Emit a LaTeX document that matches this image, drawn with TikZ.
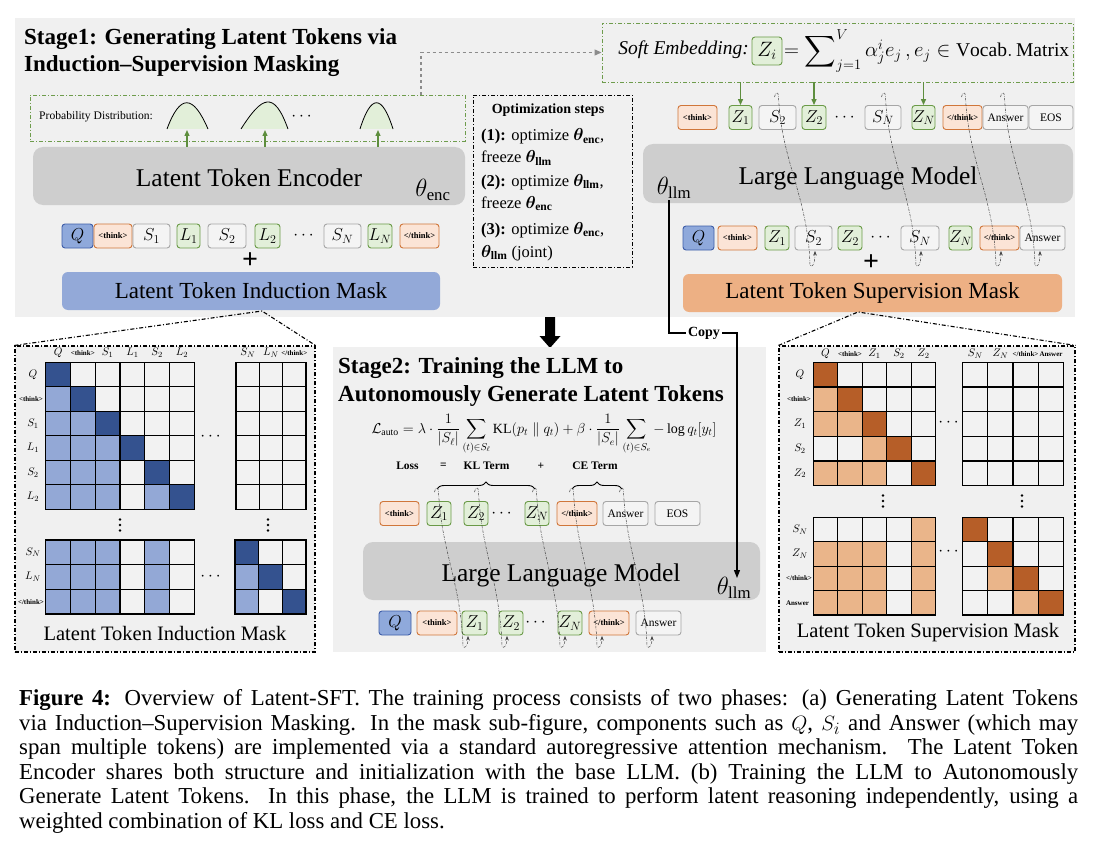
\documentclass[tikz,border=0pt]{standalone}
\usepackage{amsmath,amssymb,bm,graphicx}
\usepackage{fontspec}
\setmainfont{Liberation Serif}
\usetikzlibrary{arrows.meta,decorations.pathreplacing,calc}
\newcommand{\myfs}[2]{\fontsize{#1}{#2}\selectfont}
\definecolor{stagebg}{HTML}{F0F0F0}
\definecolor{llmgray}{HTML}{CECECE}
\definecolor{qfill}{HTML}{8FA9DB}
\definecolor{qdraw}{HTML}{3D5DA8}
\definecolor{thfill}{HTML}{FBE4D6}
\definecolor{thdraw}{HTML}{D0763A}
\definecolor{sfill}{HTML}{F4F4F4}
\definecolor{sdraw}{HTML}{A6A6A6}
\definecolor{zfill}{HTML}{E2EFD9}
\definecolor{zdraw}{HTML}{6A9A47}
\definecolor{indmask}{HTML}{93A9D8}
\definecolor{supmask}{HTML}{EDB084}
\definecolor{bD}{HTML}{34528F}
\definecolor{bL}{HTML}{93A8D6}
\definecolor{mW}{HTML}{F2F2F2}
\definecolor{oD}{HTML}{B65E28}
\definecolor{oL}{HTML}{EAB58A}
\definecolor{gline}{HTML}{6E9C4C}
\definecolor{garr}{HTML}{5E8E3E}
\newcommand{\tk}[6]{\node[#1, minimum width=#3pt] (#2) at (#4,#5) {#6};}
\newcommand{\mblock}[5]{%
 \foreach \rw [count=\ii from 0] in {#5} {%
  \foreach \cc [count=\jj from 0] in \rw {%
   \filldraw[cell, fill=\cc] ({#1+\jj*#3},{#2+\ii*#4}) rectangle ++(#3,#4);
  }%
 }%
}
\newcommand{\lcurve}[5]{%
 \draw[dcurve] ({#1-2.5},{#2+5}) .. controls ({#1-1.5},{#2}) and ({#1+1},{#2-1}) .. ({#1+1.5},{#2+4})
   .. controls ({#1+4},{#2+(#5-#2)*0.4}) and ({#3-7},{#5-(#5-#2)*0.4}) .. ({#3-5},{#5})
   .. controls ({#3-4},{#5+3}) and ({#3},{#5+1}) .. (#3,#4);
}
\newcommand{\vdotsat}[2]{\foreach \k in {-5.5,0,5.5} \fill (#1,{#2+\k}) circle (1.3pt);}
\newcommand{\bigsum}{\mathop{\vcenter{\hbox{\scalebox{1.12}{$\displaystyle\sum$}}}}\nolimits}
\begin{document}
\begin{tikzpicture}[x=1pt,y=-1pt,
 every node/.style={inner sep=0pt},
 tok/.style={draw, rounded corners=3pt, minimum height=24pt, line width=0.9pt, font=\myfs{18}{20}},
 tq/.style={tok, fill=qfill, draw=qdraw},
 tth/.style={tok, fill=thfill, draw=thdraw, font=\bfseries\myfs{8.5}{9}},
 ts/.style={tok, fill=sfill, draw=sdraw},
 tz/.style={tok, fill=zfill, draw=zdraw},
 ta/.style={tok, fill=sfill, draw=sdraw, font=\myfs{11.5}{13}},
 llmbox/.style={fill=llmgray, rounded corners=10pt},
 llmtext/.style={font=\myfs{25.5}{28}},
 maskbox/.style={rounded corners=6pt, font=\myfs{23}{25}},
 gbox/.style={draw=gline, line width=0.9pt, dash pattern=on 4pt off 2pt on 1pt off 2pt},
 kbox/.style={draw=black, line width=0.9pt, dash pattern=on 4pt off 2pt on 1pt off 2pt},
 panel/.style={fill=stagebg, draw=black, line width=1.1pt, dash pattern=on 4pt off 2pt on 1pt off 2pt},
 roof/.style={draw=black, line width=1.1pt, dash pattern=on 4pt off 2pt on 1pt off 2pt},
 garrow/.style={draw=garr, line width=1.3pt, -{Triangle[length=6pt,width=5pt]}},
 dcurve/.style={draw=black!75, line width=0.5pt, dash pattern=on 2.5pt off 1.2pt on 0.5pt off 1.2pt, -{Stealth[length=4.5pt,width=3.5pt]}},
 cell/.style={line width=1.1pt, draw=black},
 mlab/.style={font=\myfs{11}{12}},
 thlab/.style={font=\bfseries\myfs{7}{8}},
 dots/.style={font=\myfs{17}{19}},
 optl/.style={anchor=base west, font=\myfs{16.5}{19}},
 lossl/.style={font=\bfseries\myfs{11.5}{13}},
 capl/.style={anchor=base west, font=\myfs{22.8}{25}},
]
\useasboundingbox (0,0) rectangle (1098,848);
\fill[white] (0,0) rectangle (1098,848);
% ---------------- Stage 1 ----------------
\fill[stagebg] (15,18) rectangle (1075,317);
\node[anchor=base west, font=\bfseries\myfs{23}{27}] (t1a) at (24,45) {Stage1: Generating Latent Tokens via};
\node[anchor=base west, font=\bfseries\myfs{23}{27}] (t1b) at (24,72) {Induction–Supervision Masking};

% probability distribution box
\node[gbox, minimum width=435pt, minimum height=46pt] (prob) at (247.5,118) {};
\node[anchor=west, font=\myfs{11.6}{13}] (probt) at (39,117) {Probability Distribution:};
\fill[zfill] (167,129) .. controls (180,94) and (193,94) .. (208,129) -- cycle;
\draw[line width=0.8pt] (167,129) .. controls (180,94) and (193,94) .. (208,129);
\fill[zfill] (241,129) .. controls (262,96) and (274,90) .. (288,129) -- cycle;
\draw[line width=0.8pt] (241,129) .. controls (262,96) and (274,90) .. (288,129);
\fill[zfill] (360,129) .. controls (371,94) and (382,94) .. (393,129) -- cycle;
\draw[line width=0.8pt] (360,129) .. controls (371,94) and (382,94) .. (393,129);
\node[dots] (pd) at (303,117) {$\cdots$};
\coordinate (b1) at (187,130);
\coordinate (b2) at (265,130);
\coordinate (b3) at (378,130);

% encoder
\node[llmbox, minimum width=432pt, minimum height=58pt] (enc) at (249,176) {};
\node[llmtext] (enct) at (249,178) {Latent Token Encoder};
\node[font=\myfs{24}{26}] (thE) at (433,190) {$\theta_{\mathrm{enc}}$};
\draw[garrow] (enc.north -| b1) -- (b1);
\draw[garrow] (enc.north -| b2) -- (b2);
\draw[garrow] (enc.north -| b3) -- (b3);

% left token row
\tk{tq}{aQ}{31}{77.5}{236}{$Q$}
\tk{tth}{ath}{38}{113}{236}{<think>}
\tk{ts}{as1}{37}{151.5}{236}{$S_1$}
\tk{tz}{al1}{23}{188.5}{236}{$L_1$}
\tk{ts}{as2}{38}{227}{236}{$S_2$}
\tk{tz}{al2}{25}{267.5}{236}{$L_2$}
\node[dots] (ad) at (305,236) {$\cdots$};
\tk{ts}{asn}{37}{342.5}{236}{$S_N$}
\tk{tz}{aln}{24}{380}{236}{$L_N$}
\tk{tth}{aet}{39}{419.5}{236}{</think>}
\node[font=\bfseries\myfs{28}{30}] (plA) at (250,261) {+};
\node[maskbox, fill=indmask, minimum width=378pt, minimum height=38pt] (imask) at (251,291) {Latent Token Induction Mask};

% optimization steps
\node[kbox, minimum width=159pt, minimum height=172pt] (opt) at (552.5,181) {};
\node[font=\bfseries\myfs{14}{16}] (optt) at (548,110) {Optimization steps};
\node[optl] (o1) at (481,141) {\textbf{(1):} optimize $\bm{\theta}_{\textbf{enc}}$,};
\node[optl] (o2) at (481,163) {freeze $\bm{\theta}_{\textbf{llm}}$};
\node[optl] (o3) at (481,186) {\textbf{(2):} optimize $\bm{\theta}_{\textbf{llm}}$,};
\node[optl] (o4) at (481,208) {freeze $\bm{\theta}_{\textbf{enc}}$};
\node[optl] (o5) at (481,234) {\textbf{(3):} optimize $\bm{\theta}_{\textbf{enc}}$,};
\node[optl] (o6) at (481,257) {$\bm{\theta}_{\textbf{llm}}$ (joint)};

% soft embedding
\node[gbox, minimum width=471pt, minimum height=59pt] (soft) at (837.5,52.5) {};
\node[anchor=east, font=\itshape\myfs{19.5}{21}] (softt) at (749,50) {Soft Embedding:};
\node[tz, minimum width=30pt, minimum height=28pt, font=\myfs{20}{22}] (zi) at (767,51) {$Z_i$};
\node[anchor=west, font=\myfs{19.5}{22}] (softf) at (784,51) {$= \bigsum_{j=1}^{V} \alpha_j^i e_j\,, e_j \in \mathrm{Vocab.\,Matrix}$};
\coordinate (dA) at (421,95);
\draw[draw=black!45, line width=1.2pt, dashed, -{Triangle[length=7pt,width=6pt]}] (dA) |- (soft.west);

% right top tokens
\tk{tth}{r1th}{39}{697.5}{117.5}{<think>}
\tk{tz}{r1z1}{23}{740.5}{117.5}{$Z_1$}
\tk{ts}{r1s2}{37}{777.5}{117.5}{$S_2$}
\tk{tz}{r1z2}{24}{814}{117.5}{$Z_2$}
\node[dots] (r1d) at (846,117.5) {$\cdots$};
\tk{ts}{r1sn}{36}{883}{117.5}{$S_N$}
\tk{tz}{r1zn}{23}{923.5}{117.5}{$Z_N$}
\tk{tth}{r1et}{39}{962.5}{117.5}{</think>}
\tk{ta}{r1an}{45}{1005.5}{117.5}{Answer}
\tk{ta}{r1eos}{44}{1051}{117.5}{EOS}
\draw[garrow] (soft.south -| r1z1.north) -- (r1z1.north);
\draw[garrow] (soft.south -| r1z2.north) -- (r1z2.north);
\draw[garrow] (soft.south -| r1zn.north) -- (r1zn.north);

% LLM top
\node[llmbox, minimum width=430pt, minimum height=59pt] (llmA) at (858,173.5) {};
\node[llmtext] (llmAt) at (858,178) {Large Language Model};
\node[font=\myfs{24}{26}] (thA) at (674,188) {$\theta_{\mathrm{llm}}$};

% right second row
\tk{tq}{r2q}{31}{698.5}{238}{$Q$}
\tk{tth}{r2th}{39}{737.5}{238}{<think>}
\tk{tz}{r2z1}{24}{777}{238}{$Z_1$}
\tk{ts}{r2s2}{37}{813.5}{238}{$S_2$}
\tk{tz}{r2z2}{24}{850}{238}{$Z_2$}
\node[dots] (r2d) at (882,238) {$\cdots$};
\tk{ts}{r2sn}{38}{920}{238}{$S_N$}
\tk{tz}{r2zn}{23}{960.5}{238}{$Z_N$}
\tk{tth}{r2et}{39}{999.5}{238}{</think>}
\tk{ta}{r2an}{45}{1042.5}{238}{Answer}
\node[font=\bfseries\myfs{28}{30}] (plB) at (871,263) {+};
\node[maskbox, fill=supmask, minimum width=379pt, minimum height=38pt] (smask) at (872.5,293) {Latent Token Supervision Mask};

\lcurve{777}{92}{815}{251}{265}
\lcurve{884}{92}{921}{251}{265}
\lcurve{964}{92}{1001}{251}{265}
\lcurve{1003}{92}{1040}{251}{265}

% transition arrow
\fill (545,317) -- (555,317) -- (555,336) -- (560.5,336) -- (550,348) -- (539.5,336) -- (545,336) -- cycle;

% ---------------- Stage 2 ----------------
\fill[stagebg] (333,347) rectangle (766,652);
\node[anchor=base west, font=\bfseries\myfs{23}{27}] (t2a) at (338,373) {Stage2: Training the LLM to};
\node[anchor=base west, font=\bfseries\myfs{23}{27}] (t2b) at (338,401) {Autonomously Generate Latent Tokens};
\node[anchor=base, font=\myfs{14}{16}] (form) at (544,433) {$\displaystyle \mathcal{L}_{\mathrm{auto}} = \lambda\cdot\frac{1}{|S_\ell|}\sum_{(t)\in S_\ell}\mathrm{KL}(p_t \parallel q_t) + \beta\cdot\frac{1}{|S_e|}\sum_{(t)\in S_e} -\log q_t[y_t]$};
\node[lossl] (lo1) at (407.5,466) {Loss};
\node[lossl] (lo2) at (443.5,466) {=};
\node[lossl] (lo3) at (486.5,466) {KL Term};
\node[lossl] (lo4) at (541,466) {+};
\node[lossl] (lo5) at (595,466) {CE Term};
\coordinate (brA1) at (437,489);
\coordinate (brA2) at (535,489);
\coordinate (brB1) at (572,489);
\coordinate (brB2) at (622,489);
\draw[line width=0.9pt, decorate, decoration={brace, amplitude=7pt}] (brA1) -- (brA2);
\draw[line width=0.9pt, decorate, decoration={brace, amplitude=7pt}] (brB1) -- (brB2);

\tk{tth}{s1th}{39}{399.5}{513.5}{<think>}
\tk{tz}{s1z1}{24}{439}{513.5}{$Z_1$}
\tk{tz}{s1z2}{24}{476}{513.5}{$Z_2$}
\node[dots] (s1d) at (503,513.5) {$\cdots$};
\tk{tz}{s1zn}{24}{537}{513.5}{$Z_N$}
\tk{tth}{s1et}{40}{577}{513.5}{</think>}
\tk{ta}{s1an}{45}{625.5}{513.5}{Answer}
\tk{ta}{s1eos}{45}{677.5}{513.5}{EOS}

\node[llmbox, minimum width=397pt, minimum height=58pt] (llmB) at (561.5,571) {};
\node[llmtext] (llmBt) at (561,575) {Large Language Model};
\node[font=\myfs{24}{26}] (thB) at (734,588) {$\theta_{\mathrm{llm}}$};

\tk{tq}{s2q}{32}{395}{623}{$Q$}
\tk{tth}{s2th}{40}{437}{623}{<think>}
\tk{tz}{s2z1}{25}{474.5}{623}{$Z_1$}
\tk{tz}{s2z2}{24}{511}{623}{$Z_2$}
\node[dots] (s2d) at (537,623) {$\cdots$};
\tk{tz}{s2zn}{24}{570}{623}{$Z_N$}
\tk{tth}{s2et}{40}{609}{623}{</think>}
\tk{ta}{s2an}{45}{658.5}{623}{Answer}

\lcurve{437}{487}{468}{636}{646}
\lcurve{477}{487}{507}{636}{646}
\lcurve{535}{487}{565}{636}{646}
\lcurve{572}{487}{602}{636}{646}
\lcurve{622}{487}{652}{636}{646}

% copy
\node[font=\bfseries\myfs{14}{16}, inner sep=2pt] (copy) at (704,333) {Copy};
\coordinate (cpA) at (669,200);
\coordinate (cpB) at (737,578);
\draw[line width=1.1pt] (cpA) |- (copy.west);
\draw[line width=1.1pt, -{Triangle[length=8pt,width=6pt]}] (copy.east) -| (cpB);

% ---------------- Left mask panel ----------------
\node[panel, minimum width=300pt, minimum height=306pt] (lp) at (165,499) {};
\coordinate (apL) at (262,311);
\draw[roof] (lp.north west) -- (apL) -- (lp.north east);
\mblock{45.7}{362.3}{24.77}{24.5}{{bD,mW,mW,mW,mW,mW},{bL,bD,mW,mW,mW,mW},{bL,bL,bD,mW,mW,mW},{bL,bL,bL,bD,mW,mW},{bL,bL,bL,mW,bD,mW},{bL,bL,bL,mW,bL,bD}}
\mblock{236}{362.3}{23.33}{24.5}{{mW,mW,mW},{mW,mW,mW},{mW,mW,mW},{mW,mW,mW},{mW,mW,mW},{mW,mW,mW}}
\mblock{45.7}{540}{24.77}{24.67}{{bL,bL,bL,mW,bL,mW},{bL,bL,bL,mW,bL,mW},{bL,bL,bL,mW,bL,mW}}
\mblock{235}{540}{23.67}{24.67}{{bD,mW,mW},{bL,bD,mW},{bL,mW,bD}}
\foreach \x/\t [count=\i] in {58.1/Q, 107.6/S_1, 132.4/L_1, 157.2/S_2, 181.9/L_2, 247.7/S_N, 271/L_N}
  \node[mlab] (lc\i) at (\x,353) {$\t$};
\node[thlab] (lcth) at (82.8,353) {<think>};
\node[thlab] (lcet) at (294.3,353) {</think>};
\foreach \y/\t [count=\i] in {374.5/Q, 423.5/S_1, 448/L_1, 472.6/S_2, 497/L_2, 552.3/S_N, 577/L_N}
  \node[mlab] (lr\i) at (33,\y) {$\t$};
\node[thlab] (lrth) at (31,399) {<think>};
\node[thlab] (lret) at (31,601.7) {</think>};
\node[dots] (ld1) at (212,437) {$\cdots$};
\node[dots] (ld2) at (212,577) {$\cdots$};
\vdotsat{120}{525}
\vdotsat{268}{525}
\node[font=\myfs{20.5}{22}] (lpt) at (165,633) {Latent Token Induction Mask};

% ---------------- Right mask panel ----------------
\node[panel, minimum width=296pt, minimum height=306pt] (rp) at (927,499) {};
\coordinate (apR) at (858,312);
\draw[roof] (rp.north west) -- (apR) -- (rp.north east);
\mblock{813.3}{362.3}{24.48}{24.68}{{oD,mW,mW,mW,mW},{oL,oD,mW,mW,mW},{oL,oL,oD,mW,mW},{mW,mW,oL,oD,mW},{oL,oL,oL,mW,oD}}
\mblock{962.7}{362.3}{25.15}{24.68}{{mW,mW,mW,mW},{mW,mW,mW,mW},{mW,mW,mW,mW},{mW,mW,mW,mW},{mW,mW,mW,mW}}
\mblock{813.3}{517.3}{24.48}{24.43}{{mW,mW,mW,mW,oL},{oL,oL,oL,mW,oL},{oL,oL,oL,mW,oL},{oL,oL,oL,mW,oL}}
\mblock{962.7}{517.3}{25.15}{24.43}{{oD,mW,mW,mW},{mW,oD,mW,mW},{mW,oL,oD,mW},{mW,mW,oL,oD}}
\foreach \x/\t [count=\i] in {825.5/Q, 874.5/Z_1, 899/S_2, 923.5/Z_2, 975.3/S_N, 1000.4/Z_N}
  \node[mlab] (rc\i) at (\x,354) {$\t$};
\node[thlab] (rcth) at (850,354) {<think>};
\node[thlab] (rcet) at (1025.5,354) {</think>};
\node[thlab] (rcan) at (1051,354) {Answer};
\foreach \y/\t [count=\i] in {374.6/Q, 424/Z_1, 448.7/S_2, 473.4/Z_2, 529.5/S_N, 554/Z_N}
  \node[mlab] (rr\i) at (800,\y) {$\t$};
\node[thlab] (rrth) at (799,399.3) {<think>};
\node[thlab] (rret) at (799,578.4) {</think>};
\node[thlab] (rran) at (797.5,602.8) {Answer};
\node[dots] (rd1) at (950,423) {$\cdots$};
\node[dots] (rd2) at (950,552) {$\cdots$};
\vdotsat{883}{501}
\vdotsat{1022}{501}
\node[font=\myfs{20.5}{22}] (rpt) at (928,633) {Latent Token Supervision Mask};

% ---------------- Caption ----------------
\node[capl] (c1) at (19,705) {\makebox[1059pt][s]{\textbf{Figure 4:} Overview of Latent-SFT. The training process consists of two phases: (a) Generating Latent Tokens}};
\node[capl] (c2) at (19,730) {\makebox[1059pt][s]{via Induction–Supervision Masking. In the mask sub-figure, components such as $Q$, $S_i$ and Answer (which may}};
\node[capl] (c3) at (19,754.5) {\makebox[1059pt][s]{span multiple tokens) are implemented via a standard autoregressive attention mechanism. The Latent Token}};
\node[capl] (c4) at (19,779) {\makebox[1059pt][s]{Encoder shares both structure and initialization with the base LLM. (b) Training the LLM to Autonomously}};
\node[capl] (c5) at (19,803.5) {\makebox[1059pt][s]{Generate Latent Tokens. In this phase, the LLM is trained to perform latent reasoning independently, using a}};
\node[capl] (c6) at (19,828) {weighted combination of KL loss and CE loss.};
\end{tikzpicture}
\end{document}
